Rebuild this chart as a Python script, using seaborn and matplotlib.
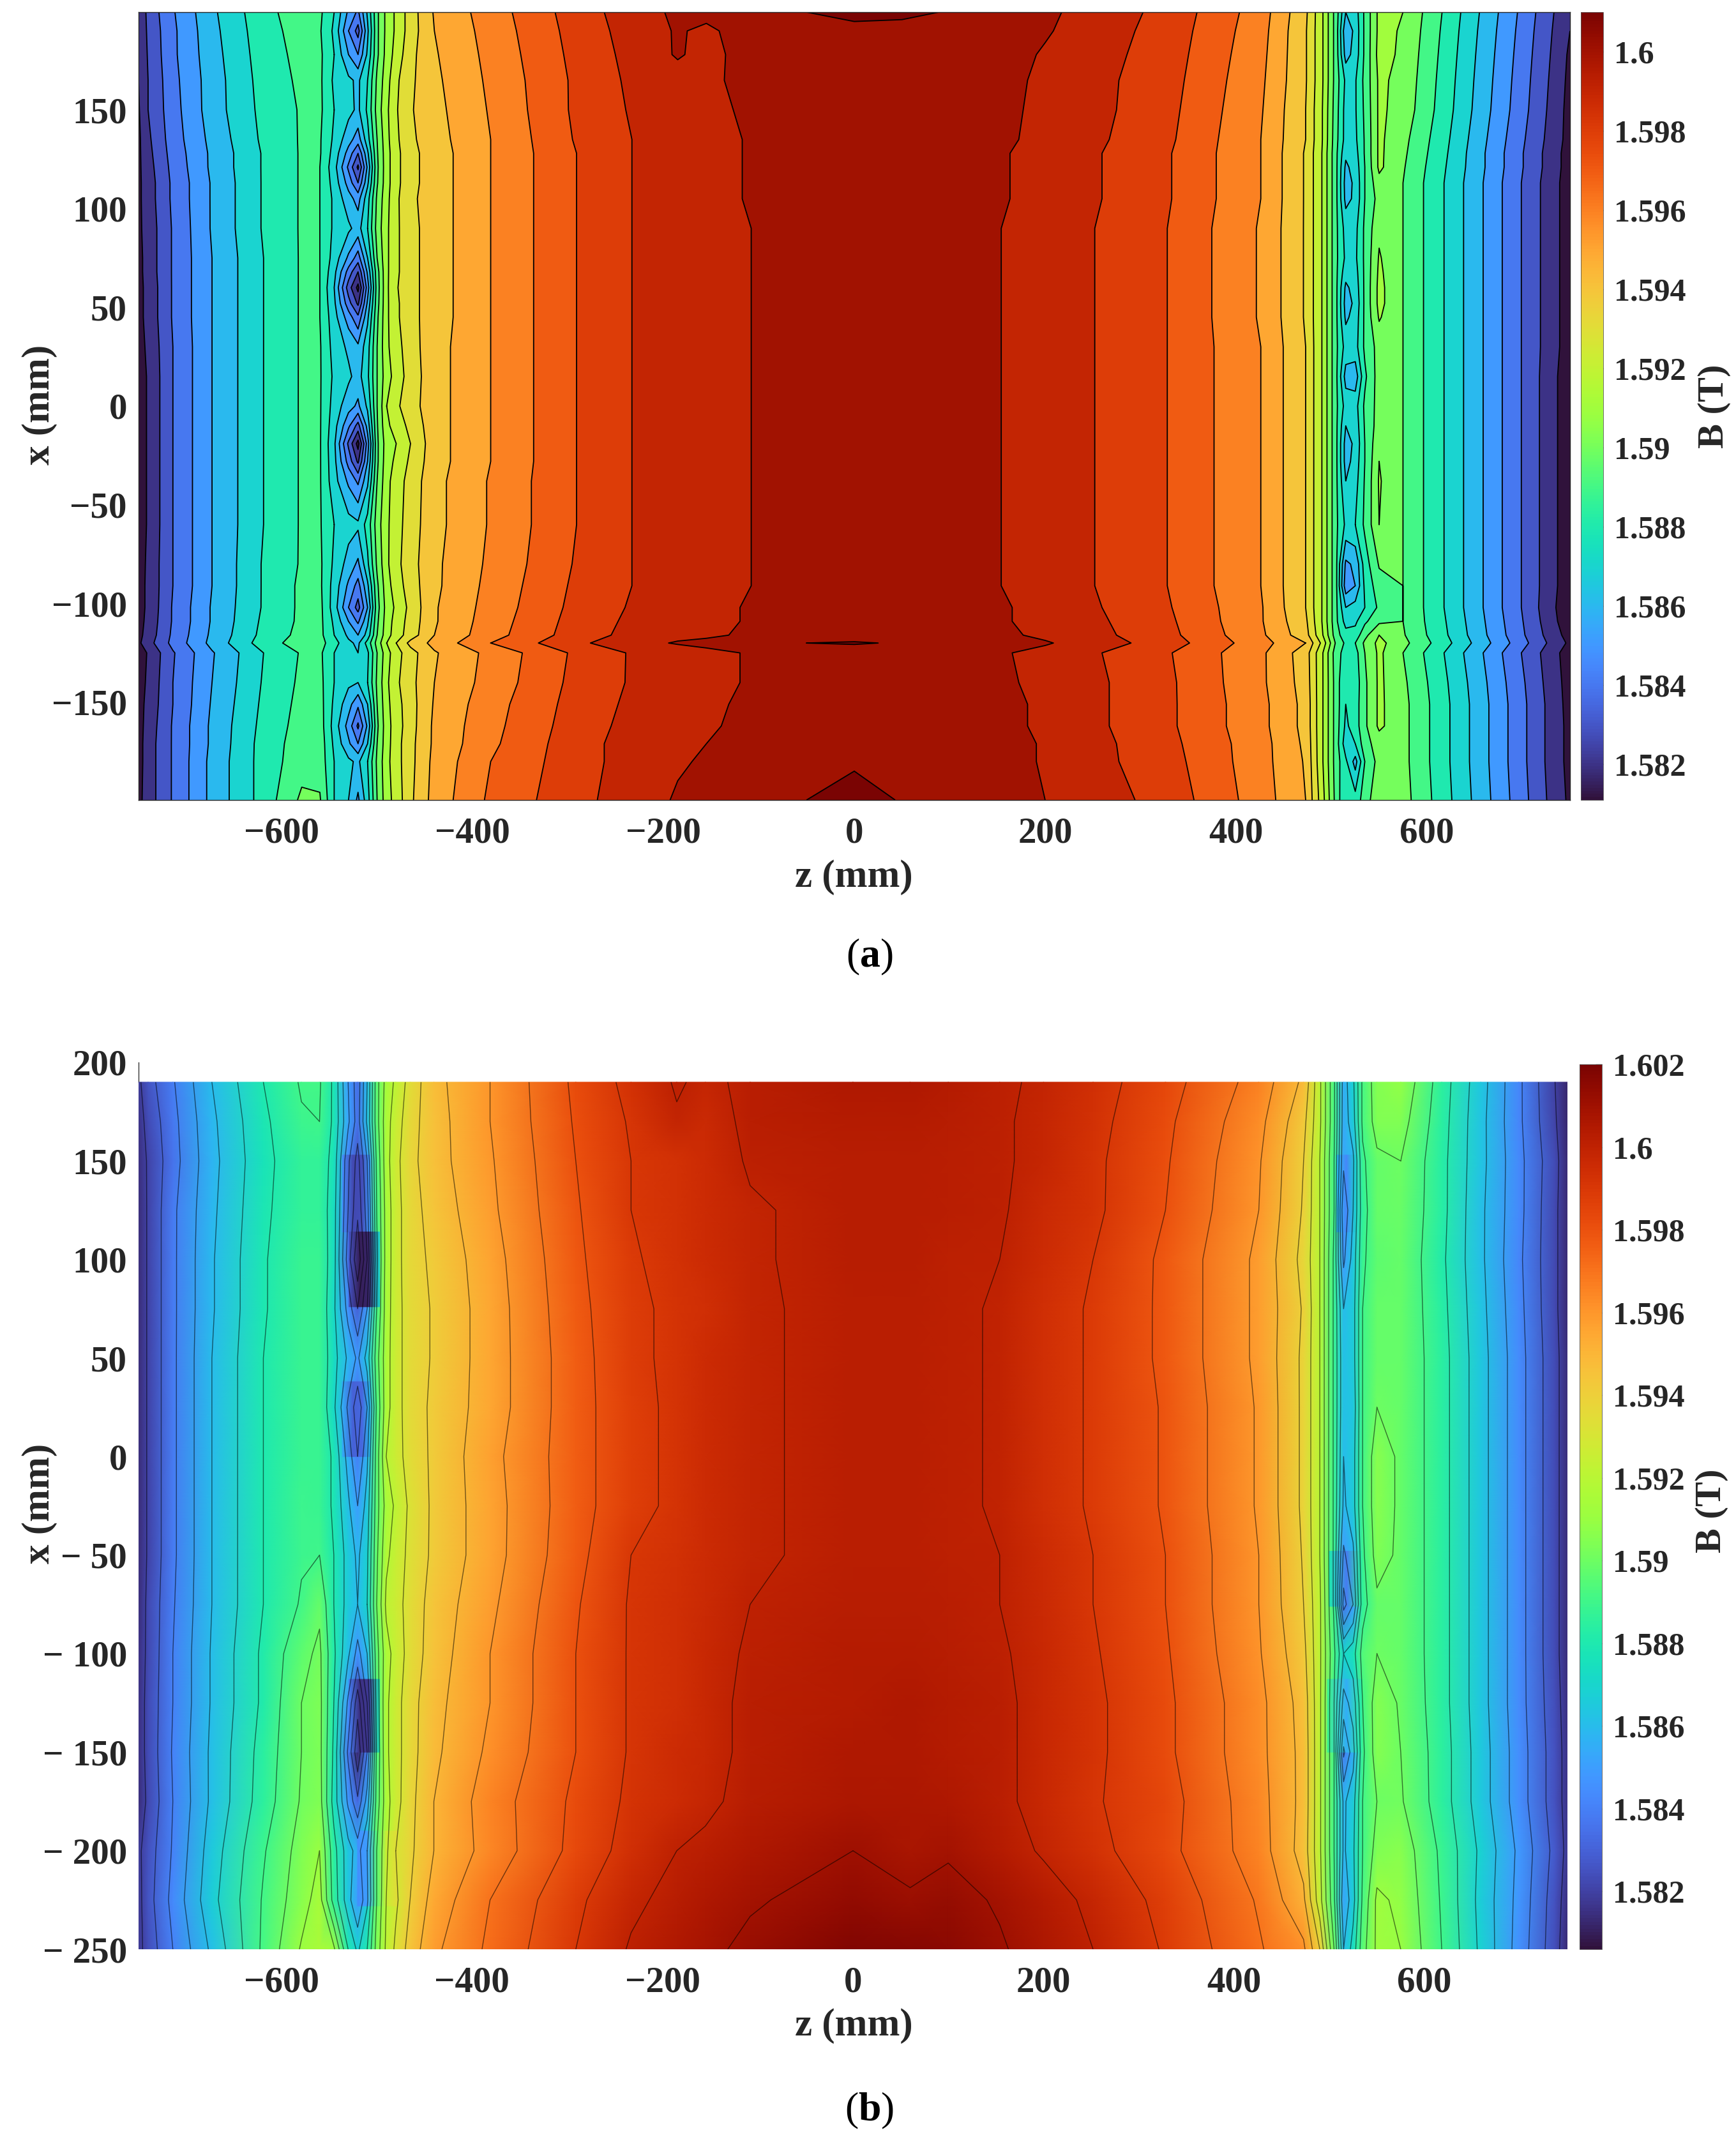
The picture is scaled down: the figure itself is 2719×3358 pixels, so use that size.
import numpy as np
import matplotlib
matplotlib.use("Agg")
import matplotlib.pyplot as plt
from matplotlib.cm import ScalarMappable
from matplotlib.colors import Normalize
import seaborn as sns

W, H = 2719, 3358

# field values below are (B - 1.58) * 1e4
a_z = [-750, -740, -714, -673, -619, -579, -560,
       -545, -530, -520, -510, -500, -490, -480, -465,
       -440, -381, -291, -233, -185, -155, -108, -50, 0, 50, 108, 154, 200, 252, 328, 426, 473,
       490, 505, 515, 525, 535, 550,
       575, 618, 659, 699, 737, 750]
a_x = [199.5, 190, 178, 165, 150, 135, 128, 121, 113, 105, 90, 75, 68, 60, 52, 45, 30, 15, 0, -10, -19, -28, -38, -60,
       -80, -91, -102, -109, -116, -120, -125, -140, -151, -162, -171, -180, -199.5]
a_rows = [
    [20,33,49,68,87,95,92, 80,58,48,72,98,113,122,135, 151,165,185,195,202,203,206,210,212,212,209,205,202,196,187,165,142, 122,95,70,75,92,113, 110,89,68,48,28,22],
    [20,32,48,67,86,94,91, 78,50,36,68,98,113,122,135, 150,164,184,194,201,198,205,207,208,207,206,204,201,195,186,164,141, 122,95,62,73,92,113, 109,88,67,47,27,20],
    [20,31,48,66,85,93,92, 80,60,50,72,98,114,124,137, 149,163,183,193,201,197,204,206,206,206,205,204,199,194,185,163,141, 122,95,66,74,92,114, 108,87,66,46,26,18],
    [20,30,47,65,84,92,92, 78,72,68,80,102,116,128,138, 148,162,182,192,196,198,203,205,205,205,204,203,198,193,184,162,141, 122,95,78,79,93,112, 107,86,65,45,25,17],
    [19,30,46,65,83,91,92, 80,73,68,82,104,118,129,139, 147,161,182,191,194,197,202,204,205,204,203,203,197,193,183,161,140, 121,94,76,79,92,112, 106,85,64,44,24,16],
    [18,28,45,63,82,91,91, 78,64,55,76,100,117,128,138, 146,160,181,190,194,196,201,203,204,203,203,202,197,192,182,160,140, 121,93,76,78,91,112, 103,83,62,42,23,16],
    [18,27,44,62,81,91,91, 76,56,40,68,99,116,127,137, 145,160,180,190,194,196,201,203,203,203,202,201,196,191,181,160,139, 120,92,72,76,91,112, 102,82,61,41,22,15],
    [18,26,43,62,81,91,90, 74,48,28,62,98,116,127,137, 145,160,180,190,194,196,201,203,203,203,202,201,196,191,181,160,139, 120,92,68,74,90,112, 101,81,61,41,22,15],
    [18,25,42,61,81,91,90, 76,56,40,68,99,116,127,137, 145,160,180,190,194,196,201,203,203,203,202,201,196,191,181,160,139, 120,92,66,72,90,107, 100,80,60,40,21,15],
    [18,25,42,61,81,91,90, 78,64,56,76,102,117,128,138, 145,160,180,190,194,196,201,202,203,202,202,201,196,191,181,160,139, 120,92,67,72,90,104, 100,80,60,40,21,15],
    [18,24,41,61,81,91,90, 78,72,66,80,104,118,128,137, 145,160,180,190,194,196,200,202,202,202,201,200,195,190,180,159,139, 120,92,76,77,92,108, 100,80,60,40,21,15],
    [17,24,41,60,80,91,90, 76,58,45,70,100,118,128,137, 145,160,180,190,194,196,200,202,202,202,201,200,195,190,180,159,139, 120,92,78,78,92,111, 100,80,60,40,21,15],
    [17,24,41,60,80,91,90, 73,46,30,62,96,118,128,137, 145,160,180,190,194,196,200,202,202,202,201,200,195,190,180,159,139, 120,92,74,76,92,112, 100,80,60,40,21,15],
    [17,23,41,60,80,91,90, 70,35,17,55,95,118,129,137, 145,160,180,190,194,196,200,202,202,202,201,200,195,190,180,159,139, 120,92,68,74,92,113, 100,80,60,40,21,15],
    [17,23,41,60,80,91,90, 72,44,28,62,96,118,128,137, 145,160,180,190,194,196,200,202,202,202,201,200,195,190,180,159,139, 120,92,66,72,92,113, 100,80,60,40,21,15],
    [17,23,41,60,80,91,90, 74,55,42,68,98,118,128,137, 145,160,180,190,194,196,200,202,202,202,201,200,195,190,180,159,139, 120,92,68,74,92,111, 100,80,60,40,21,15],
    [16,22,40,60,80,91,91, 76,68,62,76,100,118,126,136, 146,160,180,190,194,196,200,202,202,202,201,200,195,190,180,160,140, 120,92,76,76,92,104, 100,80,60,40,21,15],
    [15,21,40,60,80,91,91, 78,72,66,78,100,116,124,135, 146,160,180,190,194,196,200,202,202,202,201,200,195,190,180,160,140, 120,92,66,64,88,105, 100,80,60,40,20,14],
    [15,21,40,60,80,91,91, 76,64,58,72,100,120,128,136, 146,160,180,190,194,196,200,202,202,202,201,200,195,190,180,160,140, 120,92,76,76,92,104, 100,80,60,40,20,14],
    [15,21,40,60,80,91,91, 74,52,36,64,99,118,124,133, 146,160,180,190,194,196,200,202,202,202,201,200,195,190,180,160,140, 120,92,70,74,91,105, 100,80,60,40,20,14],
    [15,21,40,60,80,91,91, 72,38,16,55,98,115,120,130, 146,160,180,190,194,196,200,202,202,202,201,200,195,190,180,160,140, 120,92,66,72,90,108, 100,80,60,40,20,14],
    [15,21,40,60,80,91,91, 73,46,28,60,98,116,122,132, 146,160,180,190,194,196,200,202,202,202,201,200,195,190,180,160,140, 120,92,66,74,90,110, 100,80,60,40,20,15],
    [15,21,40,60,80,91,91, 74,58,48,68,100,117,125,134, 147,161,180,190,194,196,200,202,202,202,201,200,195,190,180,160,140, 120,92,70,76,91,111, 100,80,60,40,20,15],
    [15,21,40,60,80,91,91, 80,74,72,84,105,118,126,135, 147,161,180,190,194,196,200,202,202,202,201,200,195,190,180,160,140, 120,92,78,80,92,110, 100,80,60,40,20,15],
    [15,22,40,60,81,91,92, 78,66,58,78,102,118,127,136, 148,162,181,190,194,196,200,202,202,202,201,200,195,190,180,160,140, 120,92,58,62,85,101, 100,80,60,40,20,14],
    [16,22,40,60,81,92,92, 76,58,46,68,98,116,125,135, 148,163,182,190,194,196,200,202,202,202,201,200,196,190,180,160,140, 120,92,54,60,82,96, 100,80,60,40,20,14],
    [16,22,41,61,81,92,93, 75,50,36,60,96,114,122,133, 149,164,183,191,195,197,201,203,203,203,202,201,197,191,181,161,140, 120,92,70,74,80,92, 100,80,60,40,19,14],
    [16,23,41,61,82,92,93, 78,60,48,68,98,115,124,134, 149,165,184,192,196,197,201,203,204,203,202,201,197,192,182,161,142, 120,92,76,78,88,98, 100,81,61,41,20,15],
    [17,24,42,62,83,93,93, 80,68,60,74,100,116,125,135, 150,166,185,193,197,198,202,204,205,204,203,202,198,193,183,162,144, 122,94,84,84,97,110, 101,82,62,42,22,16],
    [18,26,43,63,85,95,94, 84,72,68,84,104,120,130,143, 153,170,188,196,201,203,207,210,211,209,206,204,201,195,185,164,150, 128,98,88,90,102,113, 103,84,64,44,24,18],
    [14,21,39,59,80,91,92, 80,70,70,78,100,116,126,136, 149,163,182,191,194,197,201,203,204,203,202,201,197,191,181,162,145, 122,94,86,86,100,112, 100,80,60,40,21,15],
    [15,22,40,60,81,92,93, 80,72,70,80,102,118,128,137, 150,164,183,191,195,197,201,203,204,203,202,202,197,192,182,162,146, 122,95,80,84,98,112, 102,82,62,42,22,16],
    [16,23,40,61,82,93,94, 78,64,52,70,100,117,126,136, 151,166,184,192,196,198,202,204,205,204,203,203,198,192,182,163,147, 122,95,80,85,98,112, 103,83,63,43,23,16],
    [16,24,41,62,83,94,95, 76,56,38,62,98,116,125,136, 152,167,185,193,196,199,202,204,205,204,203,203,198,192,182,163,147, 122,95,78,85,98,112, 103,83,63,43,23,17],
    [16,25,41,62,84,95,96, 78,62,50,70,100,116,126,137, 152,168,186,194,198,200,203,205,206,205,204,204,199,193,183,164,148, 122,95,74,80,96,105, 103,83,63,43,23,17],
    [16,25,41,63,84,96,96, 80,72,68,80,102,117,126,137, 153,170,186,194,199,201,203,206,208,206,204,204,199,193,184,164,149, 122,95,82,66,90,104, 103,83,63,43,23,17],
    [17,25,41,63,84,102,101, 80,70,58,76,100,116,124,138, 154,172,187,195,201,202,204,210,216,209,207,205,200,195,186,165,150, 125,96,80,84,95,108, 104,84,64,44,24,18],
]

b_z = [-750, -740, -714, -673, -619, -579, -560,
       -545, -530, -520, -510, -500, -490, -480, -465,
       -440, -381, -291, -233, -185, -155, -108, 0, 60, 100, 154, 200, 252, 328, 426, 473,
       490, 505, 515, 525, 535, 550,
       575, 618, 659, 699, 737, 750]
b_x = [190, 170, 150, 125, 100, 75, 50, 25, 0, -25, -50, -75, -100, -125, -150, -175, -200, -225, -250]
b_rows = [
    [18,26,39,60,80,91,91, 78,50,34,60,96,114,122,134, 147,160,182,193,201,198,202,205,205,204,201,199,194,184,166,148, 122,92,55,68,92,105, 108,85,64,42,20,12],
    [16,23,37,58,78,89,90, 78,52,35,62,96,116,125,136, 146,160,181,191,199,196,202,204,204,203,201,198,193,182,163,143, 122,92,54,66,92,104, 104,84,63,42,21,12],
    [15,21,36,57,77,87,87, 76,42,26,50,92,116,127,137, 146,159,180,190,193,195,201,203,203,202,201,198,192,181,161,140, 120,90,52,58,88,98, 100,83,63,43,23,13],
    [14,21,38,58,78,87,87, 74,40,22,45,90,114,126,136, 144,158,179,190,193,195,199,203,203,202,201,196,192,180,160,139, 120,90,42,60,86,98, 99,83,62,43,22,13],
    [14,21,38,59,79,88,88, 74,35,12,40,88,114,126,136, 142,156,178,189,193,195,199,203,203,201,200,195,190,178,158,137, 120,88,48,64,88,97, 98,82,62,42,22,13],
    [14,21,38,59,79,88,88, 72,46,30,50,90,115,126,135, 141,155,177,188,192,194,199,202,202,201,199.5,194,189,178,158,139, 120,88,60,66,90,98, 98,83,63,43,22,13],
    [14,21,38,60,80,88,88, 74,58,48,64,96,116,126,135, 141,155,176,188,192,195,199,202,202,201,199.5,194,189,178,158,138, 120,88,62,66,90,98, 98,84,64,44,23,14],
    [14,21,38,60,80,88,88, 72,48,34,50,92,116,126,135, 142,155,176,187,192,195,199,202,202,201,199.5,194,189,179,159,138, 120,88,62,64,90,100, 98,84,64,44,23,14],
    [14,21,38,60,80,88,88, 78,56,40,58,95,120,126,134, 142,157,176,187,192,195,199,202,202,201,199.5,194,189,179,159,138, 120,88,60,66,90,106, 98,84,64,44,23,14],
    [14,21,38,60,80,89,88, 78,62,50,64,96,114,122,132, 142,156,176,187,192,195,199,202,202,201,199.5,194,189,179,159,138, 120,88,58,66,90,106, 98,84,64,44,23,14],
    [14,21,38,60,80,89,90, 80,66,58,68,98,118,124,133, 142,156,177,190,193,195,199,202,202,201,200,195,190,180,160,139, 120,88,48,58,88,104, 98,84,64,44,23,14],
    [14,22,39,60,80,91,98, 80,66,60,70,100,122,126,134, 144,158,179,191,194,196,200,203,203,202,200,196,190,180,160,140, 122,88,36,50,86,98, 98,84,64,44,23,14],
    [15,22,40,61,82,97,102, 82,62,46,60,96,116,124,134, 145,160,180,191,194,197,201,204,204,203,201,197,191,181,161,143, 122,92,70,76,94,100, 98,84,64,44,23,14],
    [15,23,40,61,82,100,103, 80,48,24,50,94,118,126,136, 147,160,180,191,194,197,202,204,205,204,202,197,192,182,163,146, 122,90,56,64,90,105, 99,84,64,44,24,15],
    [15,23,41,62,84,100,103, 78,38,12,40,92,118,126,136, 148,162,180,191,195,197,202,205,205,204,202,197,192,182,163,147, 122,90,38,56,88,105, 100,85,65,45,25,16],
    [14,22,40,62,85,101,104, 76,48,32,54,94,116,126,137, 150,165,182,192,195,198,203,206,206,205,202,197,191,184,164,147, 122,90,58,66,90,100, 101,85,65,45,25,16],
    [18,25,41,65,89,104,110, 84,64,56,70,100,118,130,138, 150,164,183,194,200,202,205,210,207,209,204,199,193,183,165,146, 122,90,58,68,90,104, 106,88,68,48,27,17],
    [17,26,43,67,91,106,114, 86,64,50,68,100,120,128,140, 154,170,188,198,203,205,209,214,211,213,209,204,198,187,169,152, 124,92,52,66,92,112, 108,89,67,47,25,15],
    [17,24,40,62,92,111,115, 112,80,68,80,104,122,132,144, 158,172,190,201,205,208,212,218,217,215,211,206,200,189,171,162, 140,100,60,74,96,112, 110,90,68,46,24,13],
]

# blocky patches of the image in panel b: x from, x to, z columns, values
b_tiles = [
    (153, 114, [-536, -525, -515, -507], [1.5845, 1.5822, 1.5824, 1.5850]),
    (114, 76, [-529, -518, -508, -497], [1.5826, 1.5810, 1.5812, 1.5870]),
    (38, 0, [-536, -525, -515, -507], [1.5855, 1.5830, 1.5832, 1.5860]),
    (-113, -150, [-529, -518, -508, -497], [1.5840, 1.5815, 1.5818, 1.5880]),
    (-190, -228, [-520, -510, -500, -490, -478], [1.5845, 1.5850, 1.5895, 1.5925, 1.5935]),
    (153, 114, [508, 518, 528], [1.5860, 1.5842, 1.5870]),
    (-48, -76, [500, 518, 534], [1.5880, 1.5838, 1.5885]),
    (-113, -150, [498, 518, 534], [1.5890, 1.5855, 1.5885]),
]

z_ticks = [-600, -400, -200, 0, 200, 400, 600]
z_labels = ["\u2212600", "\u2212400", "\u2212200", "0", "200", "400", "600"]
a_xticks = [-150, -100, -50, 0, 50, 100, 150]
a_xlabels = ["\u2212150", "\u2212100", "\u221250", "0", "50", "100", "150"]
b_xticks = [-250, -200, -150, -100, -50, 0, 50, 100, 150, 200]
b_xlabels = ["\u2212 250", "\u2212 200", "\u2212 150", "\u2212 100", "\u2212 50", "0", "50", "100", "150", "200"]
a_cticks = [1.582, 1.584, 1.586, 1.588, 1.59, 1.592, 1.594, 1.596, 1.598, 1.6]
b_cticks = [1.582, 1.584, 1.586, 1.588, 1.59, 1.592, 1.594, 1.596, 1.598, 1.6, 1.602]
a_range = (1.5811, 1.601)
b_range = (1.5806, 1.602)


def px_axes(fig, left, top, right, bottom):
    return fig.add_axes([left / W, 1 - bottom / H, (right - left) / W, (bottom - top) / H])


def field(rows):
    return 1.58 + np.array(rows, dtype=float) / 1e4


def style_axes(ax, xt, xl):
    ax.set_xticks(z_ticks)
    ax.set_xticklabels(z_labels)
    ax.set_yticks(xt)
    ax.set_yticklabels(xl)
    ax.set_xlim(-750, 750)


def add_colorbar(fig, cax, norm, ticks, label_x, label_y):
    cb = fig.colorbar(ScalarMappable(norm=norm, cmap=turbo), cax=cax)
    cb.set_ticks(ticks)
    cb.set_ticklabels([f"{t:g}" for t in ticks])
    cb.ax.tick_params(direction="in", length=7, width=1, pad=12, labelsize=36, color="#333333", labelcolor="#262626")
    cb.outline.set_linewidth(0.6)
    cb.outline.set_edgecolor("#555555")
    fig.text(label_x / W, 1 - label_y / H, "B (T)", rotation=90, ha="center", va="center", fontsize=42, color="#262626")


sns.set_theme(style="white")
plt.rcParams["font.family"] = ["Liberation Serif", "DejaVu Serif"]
plt.rcParams["font.weight"] = "bold"
plt.rcParams["mathtext.fontset"] = "custom"
plt.rcParams["mathtext.bf"] = "Liberation Serif:bold"
plt.rcParams["mathtext.rm"] = "Liberation Serif"
turbo = sns.color_palette("turbo", as_cmap=True)

fig = plt.figure(figsize=(W / 100, H / 100), dpi=100, facecolor="white")

# panel a: filled contours, band colour taken from its lower level
ax = px_axes(fig, 217, 19, 2459, 1253)
norm_a = Normalize(*a_range)
levels = np.arange(1.581, 1.6025, 0.001)
band_colors = [turbo(norm_a(v)) for v in levels[:-1]]
B_a = field(a_rows)[::-1]
X_a = np.array(a_x)[::-1]
ax.contourf(a_z, X_a, B_a, levels=levels, colors=band_colors, extend="neither")
ax.contour(a_z, X_a, B_a, levels=levels[1:], colors="black", linewidths=1.3)
style_axes(ax, a_xticks, a_xlabels)
ax.set_ylim(-199.5, 199.5)
ax.tick_params(direction="in", top=True, right=True, bottom=True, left=True, length=14, width=1,
               labelsize=41, pad=13, color="#333333", labelcolor="#262626")
ax.tick_params(axis="x", pad=19)
for s in ax.spines.values():
    s.set_linewidth(1)
    s.set_color("#262626")
cax = px_axes(fig, 2476, 19, 2511, 1253)
add_colorbar(fig, cax, norm_a, a_cticks, 2685, 636)

# panel b: smooth image under thin contour lines
ax = px_axes(fig, 217, 1664, 2455, 3053)
norm_b = Normalize(*b_range)
B_b = field(b_rows)[::-1]
X_b = np.array(b_x)[::-1]
ZZ, XX = np.meshgrid(b_z, X_b)
ax.pcolormesh(ZZ, XX, B_b, cmap=turbo, norm=norm_b, shading="gouraud", zorder=3)
for x0, x1, tz, tv in b_tiles:
    tZ, tX = np.meshgrid(tz, [x1, x0])
    ax.pcolormesh(tZ, tX, np.array([tv, tv]), cmap=turbo, norm=norm_b, shading="gouraud", zorder=3.2)
ax.contour(b_z, X_b, B_b, levels=np.arange(1.582, 1.6015, 0.001), colors="black",
           linewidths=1.0, alpha=0.55, zorder=4)
style_axes(ax, b_xticks, b_xlabels)
ax.set_ylim(-250, 200)
ax.tick_params(direction="in", length=16, width=1, labelsize=41, pad=13, color="#333333", labelcolor="#262626")
ax.tick_params(axis="x", pad=19)
ax.set_axisbelow(True)
sns.despine(ax=ax, top=True, right=True, bottom=True, left=False)
ax.spines["left"].set_bounds(190, 200)
ax.spines["left"].set_linewidth(1)
ax.spines["left"].set_color("#333333")
cax = px_axes(fig, 2474, 1667, 2509, 3053)
add_colorbar(fig, cax, norm_b, b_cticks, 2681, 2366)

# axis labels and panel captions at their places on the page
for y in (1374, 3173):
    fig.text(1337 / W, 1 - y / H, "z (mm)", ha="center", va="center", fontsize=44, color="#262626")
for y in (634, 2355):
    fig.text(62 / W, 1 - y / H, "x (mm)", rotation=90, ha="center", va="center", fontsize=44, color="#262626")
fig.text(1362 / W, 1 - 1499 / H, r"($\mathbf{a}$)", ha="center", va="center", fontsize=46, fontweight="normal", color="black")
fig.text(1362 / W, 1 - 3306 / H, r"($\mathbf{b}$)", ha="center", va="center", fontsize=46, fontweight="normal", color="black")

fig.savefig("out.png", dpi=100, facecolor="white")
